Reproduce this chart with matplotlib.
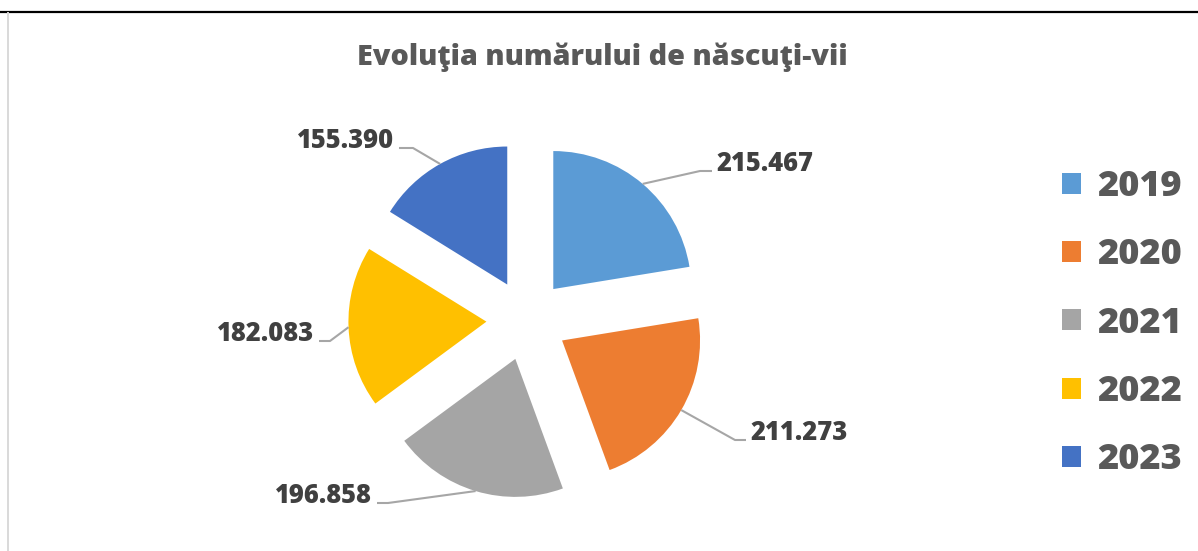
import matplotlib
matplotlib.use("Agg")
import matplotlib.pyplot as plt
import numpy as np

# ---- data ----
years = ["2019", "2020", "2021", "2022", "2023"]
births = [215467, 211273, 196858, 182083, 155390]
colors = ["#5B9BD5", "#ED7D31", "#A5A5A5", "#FFC000", "#4472C4"]
title = "Evoluţia numărului de născuţi-vii"

# ---- layout (pixel coords, y measured from top) ----
W, H = 1198, 551
center_img = (527, 320)
radius = 138
explode_px = 40.6
# elbow point and horizontal end of each leader line
elbows = [(700, 171), (735, 440), (388, 503), (330, 341), (413, 148)]
ends = [(712, 171), (746, 440), (377, 503), (319, 341), (399, 148)]

fig = plt.figure(figsize=(W / 100, H / 100), dpi=100)
ax = fig.add_axes([0, 0, 1, 1])


def Y(y):
    return H - y


wedges, _ = ax.pie(
    births,
    colors=colors,
    startangle=90,
    counterclock=False,
    explode=[explode_px] * len(births),
    radius=radius,
    center=(center_img[0], Y(center_img[1])),
    wedgeprops=dict(linewidth=0),
    frame=False,
)
ax.set_xlim(0, W)
ax.set_ylim(0, H)
ax.set_aspect("equal")
ax.axis("off")

label_font = dict(family="Open Sans", fontweight=800, fontsize=18.4, color="#404040")
for w, v, el, en in zip(wedges, births, elbows, ends):
    th = np.deg2rad(0.5 * (w.theta1 + w.theta2))
    cx, cy = w.center
    px = cx + w.r * np.cos(th)
    py = cy + w.r * np.sin(th)
    ax.plot([px, el[0], en[0]], [py, Y(el[1]), Y(en[1])], color="#A6A6A6",
            linewidth=1.5, solid_capstyle="butt")
    txt = f"{v:,}".replace(",", ".")
    if en[0] > el[0]:
        ax.text(en[0] + 4, Y(en[1]), txt, ha="left", va="baseline", **label_font)
    else:
        ax.text(en[0] - 5, Y(en[1]), txt, ha="right", va="baseline", **label_font)

fig.text(602 / W, 1 - 65 / H, title, ha="center", va="baseline",
         family="Open Sans", fontweight=800, fontsize=20.7, color="#595959")

leg = ax.legend(
    wedges, years,
    loc="upper left",
    bbox_to_anchor=(1062 / W, 1 - 169 / H),
    bbox_transform=fig.transFigure,
    frameon=False,
    handlelength=0.52,
    handleheight=0.52,
    handletextpad=0.45,
    labelspacing=0.895,
    borderpad=0,
    borderaxespad=0,
    prop=dict(family="Open Sans", weight=800, size=26),
)
for t in leg.get_texts():
    t.set_color("#595959")

# frame lines
fig.add_artist(plt.Line2D([0, 1], [1 - 11.5 / H, 1 - 11.5 / H], transform=fig.transFigure,
                          color="black", linewidth=1.6))
fig.add_artist(plt.Line2D([7.5 / W, 7.5 / W], [0, 1 - 12.5 / H], transform=fig.transFigure,
                          color="#D9D9D9", linewidth=1.4))

fig.savefig("out.png", dpi=100)
